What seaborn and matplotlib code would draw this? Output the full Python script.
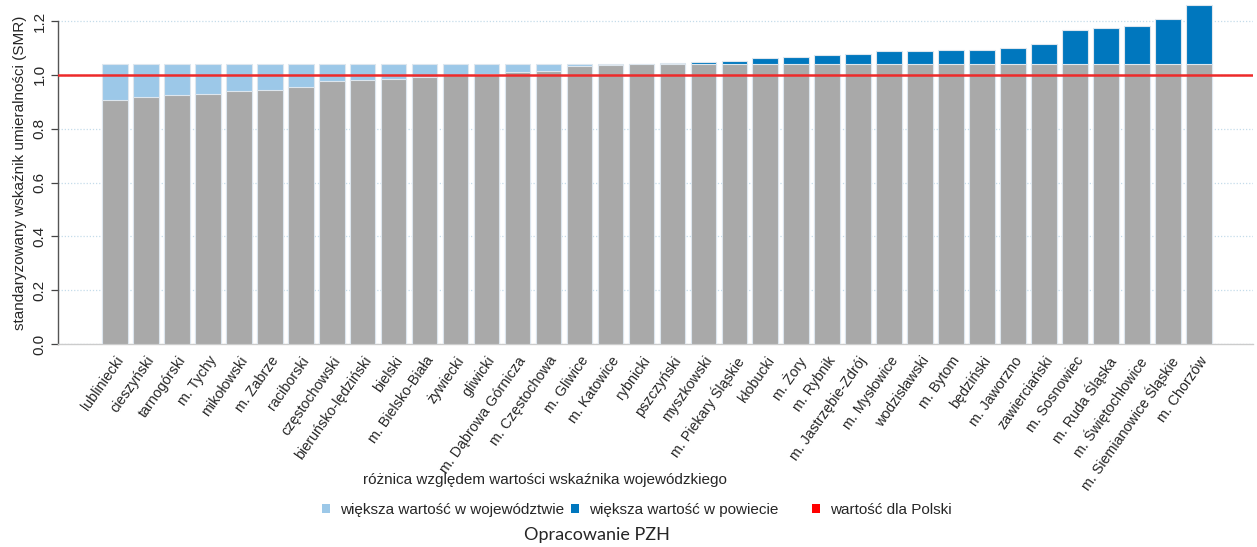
import matplotlib
matplotlib.use("Agg")
import matplotlib.pyplot as plt
import numpy as np
import pandas as pd
import seaborn as sns
from matplotlib.patches import Patch

COUNTIES = [
    "lubliniecki", "cieszyński", "tarnogórski", "m. Tychy", "mikołowski", "m. Zabrze",
    "raciborski", "częstochowski", "bieruńsko-lędziński", "bielski", "m. Bielsko-Biała",
    "żywiecki", "gliwicki", "m. Dąbrowa Górnicza", "m. Częstochowa", "m. Gliwice",
    "m. Katowice", "rybnicki", "pszczyński", "myszkowski", "m. Piekary Śląskie",
    "kłobucki", "m. Żory", "m. Rybnik", "m. Jastrzębie-Zdrój", "m. Mysłowice",
    "wodzisławski", "m. Bytom", "będziński", "m. Jaworzno", "zawierciański",
    "m. Sosnowiec", "m. Ruda Śląska", "m. Świętochłowice", "m. Siemianowice Śląskie",
    "m. Chorzów",
]
SMR_COUNTY = [
    0.907, 0.916, 0.927, 0.930, 0.940, 0.943,
    0.954, 0.976, 0.981, 0.985, 0.992,
    1.001, 1.003, 1.009, 1.013, 1.034,
    1.036, 1.040, 1.045, 1.049, 1.052,
    1.063, 1.067, 1.073, 1.078, 1.087,
    1.089, 1.093, 1.093, 1.099, 1.115,
    1.167, 1.174, 1.180, 1.209,
    1.258,
]
SMR_VOIVODESHIP = 1.041
SMR_POLAND = 1.0

GREY = "#a9a9a9"
LIGHT_BLUE = "#9cc8e8"
DARK_BLUE = "#0077be"
RED = "#ee2a2a"
EDGE = "#dde6ee"

LABEL_LOW = "większa wartość w województwie"
LABEL_HIGH = "większa wartość w powiecie"
LABEL_PL = "wartość dla Polski"

W, H = 1257, 547


def main() -> None:
    sns.set_theme(style="white")
    plt.rcParams["font.family"] = ["Liberation Sans", "DejaVu Sans"]

    df = pd.DataFrame({"county": COUNTIES, "smr": SMR_COUNTY})
    df["top"] = np.maximum(df["smr"], SMR_VOIVODESHIP)
    df["base"] = np.minimum(df["smr"], SMR_VOIVODESHIP)
    df["kind"] = np.where(df["smr"] > SMR_VOIVODESHIP, LABEL_HIGH, LABEL_LOW)

    fig = plt.figure(figsize=(W / 100, H / 100), dpi=100)
    ax = fig.add_axes([0.046, 0.371, 0.951, 0.625])

    ax.set_yticks([0.2, 0.4, 0.6, 0.8, 1.0, 1.2])
    ax.yaxis.grid(True, color="#c5dcea", linestyle=(0, (1, 1.5)), linewidth=0.9)
    ax.set_axisbelow(True)

    sns.barplot(
        data=df, x="county", y="top", hue="kind",
        palette={LABEL_LOW: LIGHT_BLUE, LABEL_HIGH: DARK_BLUE},
        dodge=False, width=0.83, saturation=1, edgecolor=EDGE, linewidth=0.8,
        legend=False, ax=ax, zorder=2,
    )
    sns.barplot(
        data=df, x="county", y="base", color=GREY, saturation=1,
        width=0.83, edgecolor=EDGE, linewidth=0.8, ax=ax, zorder=3,
    )
    ax.axhline(SMR_POLAND, color=RED, linewidth=1.8, zorder=4)

    ax.set_xlim(-1.84, len(COUNTIES) - 1 + 1.75)
    ax.set_ylim(0, 1.27)
    ax.set_yticks([0.0, 0.2, 0.4, 0.6, 0.8, 1.0, 1.2])
    ax.set_yticklabels(["0.0", "0.2", "0.4", "0.6", "0.8", "1.0", "1.2"],
                       rotation=90, va="center", fontsize=11)
    ax.tick_params(axis="y", left=True, length=5, width=0.9, color="#444444", pad=3)
    ax.tick_params(axis="x", bottom=False, pad=1)
    ax.set_xticks(range(len(COUNTIES)))
    ax.set_xticklabels(COUNTIES, rotation=55, ha="right", rotation_mode="anchor", fontsize=10.3)

    for side in ["top", "right"]:
        ax.spines[side].set_visible(False)
    ax.spines["left"].set_bounds(0, 1.2)
    ax.spines["left"].set_color("#555555")
    ax.spines["left"].set_linewidth(1.0)
    ax.spines["bottom"].set_color("#cccccc")
    ax.spines["bottom"].set_linewidth(1.0)

    ax.set_xlabel("")
    ax.set_ylabel("standaryzowany wskaźnik umieralności (SMR)", fontsize=11, labelpad=4)

    fig.text(545 / W, 1 - 480 / H, "różnica względem wartości wskaźnika wojewódzkiego",
             ha="center", va="center", fontsize=11)

    # three separate legend entries, placed like the original (uneven gaps)
    entries = [
        (LIGHT_BLUE, LABEL_LOW, 322),
        (DARK_BLUE, LABEL_HIGH, 571),
        ("#ff0000", LABEL_PL, 812),
    ]
    for color, label, x_px in entries:
        fig.legend(
            handles=[Patch(facecolor=color, edgecolor="none", label=label)],
            loc="center left", bbox_to_anchor=(x_px / W, 1 - 510 / H),
            frameon=False, fontsize=11, handlelength=0.55, handleheight=0.55,
            handletextpad=0.65, borderpad=0, borderaxespad=0,
        )

    fig.text(597 / W, 1 - 535 / H, "Opracowanie PZH", ha="center", va="center",
             fontsize=13, family=["Lato", "DejaVu Sans"])

    fig.savefig("out.png", dpi=100)
    plt.close(fig)


if __name__ == "__main__":
    main()
